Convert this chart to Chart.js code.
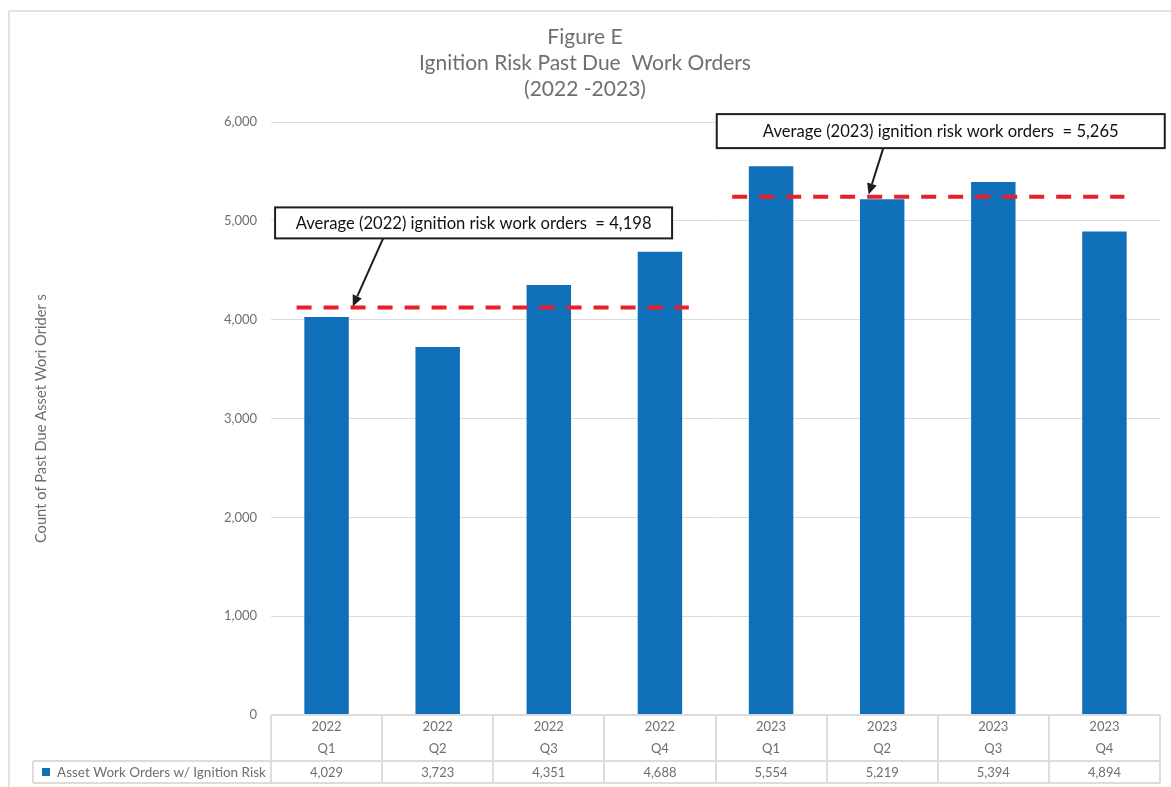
<!DOCTYPE html>
<html>
<head>
<meta charset="utf-8">
<script src="https://cdn.jsdelivr.net/npm/chart.js@4.4.1/dist/chart.umd.min.js"></script>
<style>
  html, body { margin: 0; padding: 0; background: #ffffff; }
  #c { display: block; }
</style>
</head>
<body>
<canvas id="c" width="1171" height="787"></canvas>
<script>
// ---- data ----
const years = ["2022", "2022", "2022", "2022", "2023", "2023", "2023", "2023"];
const quarters = ["Q1", "Q2", "Q3", "Q4", "Q1", "Q2", "Q3", "Q4"];
const seriesName = "Asset Work Orders w/ Ignition Risk";
const workOrders = [4029, 3723, 4351, 4688, 5554, 5219, 5394, 4894];
const yTicks = [0, 1000, 2000, 3000, 4000, 5000, 6000];
const avgLineValues = [4125, 5245];           // where the dashed average lines are drawn
const avgLabels = [
  "Average (2022) ignition risk work orders  = 4,198",
  "Average (2023) ignition risk work orders  = 5,265"
];
const titleLines = ["Figure E", "Ignition Risk Past Due  Work Orders", "(2022 -2023)"];
const yTitle = "Count of Past Due Asset Wori Orider s";

// ---- styles / placement (not data) ----
const FONT = "Lato, 'Open Sans', sans-serif";
const BAR = "#0f6fb8";
const GREY = "#6f6f6f";
const LINE = "#dcdcdc";
const avgSpans = [[-0.27, 3.26], [3.65, 7.18]];        // in category-index units
const boxes = [
  { cx: 1.323, topVal: 5137, w: 397, h: 31, tailX: 0.509, tipX: 0.236, tipVal: 4135 },
  { cx: 5.527, topVal: 6081, w: 448, h: 34, tailX: 5.01, tipX: 4.878, tipVal: 5268 }
];

const labels = years.map((y, i) => [y, quarters[i]]);

const decorPlugin = {
  id: 'decor',
  beforeDraw(chart) {
    const ctx = chart.ctx;
    ctx.save();
    ctx.fillStyle = '#fff';
    ctx.fillRect(0, 0, chart.width, chart.height);
    ctx.strokeStyle = '#e2e2e2';
    ctx.lineWidth = 2;
    ctx.strokeRect(9, 11, chart.width + 20, chart.height + 20);
    ctx.restore();
  },
  afterDatasetsDraw(chart) {
    const ctx = chart.ctx;
    const xs = chart.scales.x, ys = chart.scales.y;
    const colW = xs.width / labels.length;
    const px = (idx) => xs.left + colW * (idx + 0.5);
    ctx.save();
    // dashed average lines
    ctx.strokeStyle = '#e8202a';
    ctx.lineWidth = 4;
    ctx.setLineDash([15, 12]);
    avgLineValues.forEach((v, k) => {
      const y = ys.getPixelForValue(v);
      ctx.beginPath();
      ctx.moveTo(px(avgSpans[k][0]), y);
      ctx.lineTo(px(avgSpans[k][1]), y);
      ctx.stroke();
    });
    ctx.setLineDash([]);
    // annotation boxes and arrows
    boxes.forEach((b, k) => {
      const cx = px(b.cx);
      const top = ys.getPixelForValue(b.topVal);
      const left = cx - b.w / 2;
      ctx.fillStyle = '#fff';
      ctx.fillRect(left, top, b.w, b.h);
      ctx.strokeStyle = '#1e1e1e';
      ctx.lineWidth = 2;
      ctx.strokeRect(left, top, b.w, b.h);
      ctx.fillStyle = '#111';
      ctx.font = "16.6px " + FONT;
      ctx.textAlign = 'center';
      ctx.textBaseline = 'middle';
      ctx.fillText(avgLabels[k], cx, top + b.h / 2 + 1);
      // arrow
      const x0 = px(b.tailX), y0 = top + b.h;
      const x1 = px(b.tipX), y1 = ys.getPixelForValue(b.tipVal);
      const ang = Math.atan2(y1 - y0, x1 - x0);
      const hl = 11, hw = 5;
      const bx = x1 - hl * Math.cos(ang), by = y1 - hl * Math.sin(ang);
      ctx.strokeStyle = '#1e1e1e';
      ctx.lineWidth = 2;
      ctx.beginPath();
      ctx.moveTo(x0, y0);
      ctx.lineTo(bx, by);
      ctx.stroke();
      ctx.fillStyle = '#1e1e1e';
      ctx.beginPath();
      ctx.moveTo(x1, y1);
      ctx.lineTo(bx + hw * Math.sin(ang), by - hw * Math.cos(ang));
      ctx.lineTo(bx - hw * Math.sin(ang), by + hw * Math.cos(ang));
      ctx.closePath();
      ctx.fill();
    });
    ctx.restore();
  },
  afterDraw(chart) {
    const ctx = chart.ctx;
    const xs = chart.scales.x;
    const top = chart.chartArea.bottom;
    const hdrH = 46, rowH = 22;
    const colW = xs.width / labels.length;
    const legLeft = 33;
    ctx.save();
    ctx.strokeStyle = LINE;
    ctx.lineWidth = 2;
    ctx.beginPath();
    // verticals
    for (let k = 0; k <= labels.length; k++) {
      const x = Math.round(xs.left + k * colW);
      ctx.moveTo(x, top);
      ctx.lineTo(x, top + hdrH + rowH);
    }
    ctx.moveTo(legLeft, top + hdrH);
    ctx.lineTo(legLeft, top + hdrH + rowH);
    // horizontals
    ctx.moveTo(xs.left, top);
    ctx.lineTo(xs.right, top);
    ctx.moveTo(legLeft, top + hdrH);
    ctx.lineTo(xs.right, top + hdrH);
    ctx.moveTo(legLeft, top + hdrH + rowH);
    ctx.lineTo(xs.right, top + hdrH + rowH);
    ctx.stroke();
    // values
    ctx.fillStyle = GREY;
    ctx.font = "13px " + FONT;
    ctx.textAlign = 'center';
    ctx.textBaseline = 'middle';
    workOrders.forEach((v, i) => {
      ctx.fillText(v.toLocaleString('en-US'), xs.left + colW * (i + 0.5), top + hdrH + rowH / 2 + 1);
    });
    // legend key
    ctx.fillStyle = BAR;
    ctx.fillRect(42, top + hdrH + 7, 8, 8);
    ctx.fillStyle = GREY;
    ctx.textAlign = 'left';
    ctx.font = "13.5px " + FONT;
    ctx.fillText(seriesName, 57, top + hdrH + rowH / 2 + 1);
    ctx.restore();
  }
};

new Chart(document.getElementById('c'), {
  type: 'bar',
  data: {
    labels: labels,
    datasets: [{
      label: seriesName,
      data: workOrders,
      backgroundColor: BAR,
      borderWidth: 0,
      barPercentage: 0.4,
      categoryPercentage: 1.0
    }]
  },
  options: {
    responsive: false,
    animation: false,
    layout: { padding: { left: 10, right: 11, top: 0, bottom: 4 } },
    plugins: {
      legend: { display: false },
      tooltip: { enabled: false },
      title: {
        display: true,
        text: titleLines,
        color: GREY,
        font: { family: FONT, size: 21, weight: 'normal', lineHeight: 1.24 },
        padding: { top: 24, bottom: 20 }
      }
    },
    scales: {
      x: {
        grid: { display: false },
        border: { display: false },
        ticks: {
          color: GREY,
          font: { family: FONT, size: 13, lineHeight: 1.7 },
          padding: -7,
          maxRotation: 0,
          autoSkip: false
        },
        afterFit(scale) { scale.height = 68; }
      },
      y: {
        min: 0,
        max: 6000,
        afterBuildTicks(scale) { scale.ticks = yTicks.map(v => ({ value: v })); },
        grid: { color: LINE, lineWidth: 1, drawTicks: false },
        border: { display: false },
        ticks: {
          color: GREY,
          font: { family: FONT, size: 13 },
          padding: 14,
          callback: (v) => Number(v).toLocaleString('en-US')
        },
        title: {
          display: true,
          text: yTitle,
          color: GREY,
          font: { family: FONT, size: 14.7, weight: 'normal', lineHeight: 1.2 },
          padding: { top: 22, bottom: 0 }
        },
        afterFit(scale) { scale.width = 261; }
      }
    }
  },
  plugins: [decorPlugin]
});
</script>
</body>
</html>
